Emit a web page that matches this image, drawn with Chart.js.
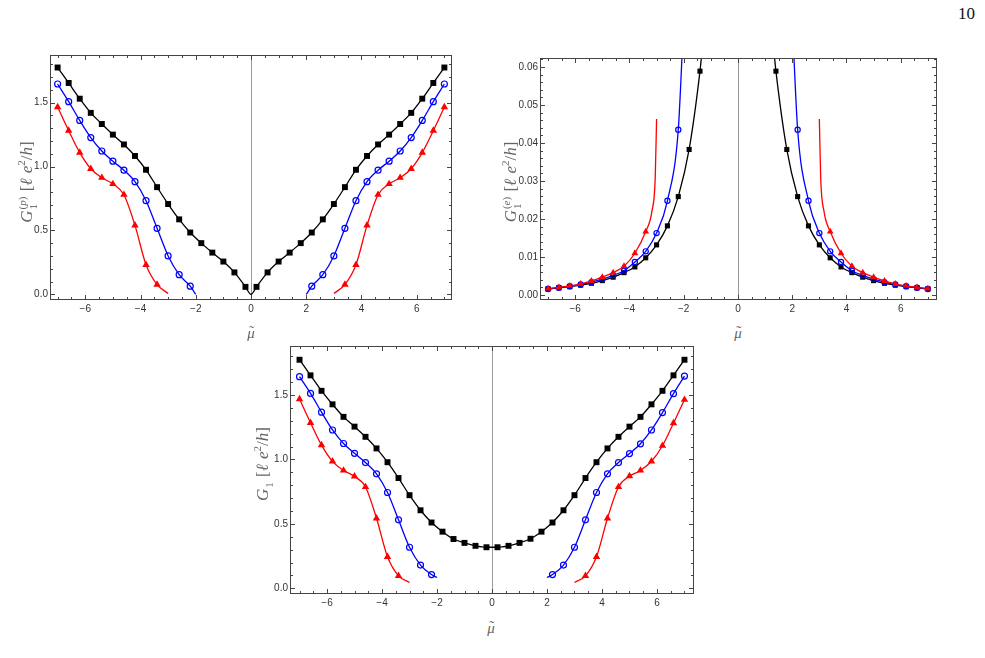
<!DOCTYPE html>
<html>
<head>
<meta charset="utf-8">
<script src="https://cdn.jsdelivr.net/npm/chart.js@4.4.1/dist/chart.umd.min.js"></script>
<style>
  body { margin: 0; width: 985px; height: 658px; background: #fff; position: relative; overflow: hidden; }
  canvas { position: absolute; }
  .lbl { position: absolute; font-family: 'Liberation Serif', 'Times New Roman', serif; color: #666; white-space: nowrap; font-size: 17px; z-index: 2; }
  .ylab { width: 160px; height: 24px; margin-left: -80px; margin-top: -12px; line-height: 24px; text-align: center; transform: rotate(-90deg); word-spacing: 1px; }
  .mu { width: 20px; height: 20px; margin-left: -10px; margin-top: -10px; line-height: 20px; text-align: center; font-style: italic; font-size: 15px; }
  .mu .w { position: relative; display: inline-block; }
  .mu .tl { position: absolute; left: 2px; top: 1px; font-style: normal; font-size: 15px; line-height: 15px; }
  .ss { display: inline-block; vertical-align: -0.5em; font-size: 11px; line-height: 1.0; text-align: left; margin-left: 1px; }
  .ss span { display: block; }
  sup { font-size: 11px; }
  .page { position: absolute; left: 958px; top: 4px; font-family: 'Liberation Serif', serif; font-size: 17px; color: #111; }
</style>
</head>
<body>
<div class="page">10</div>

<canvas id="p1" width="450" height="276" style="left:7px;top:47px"></canvas>
<canvas id="p2" width="445" height="273" style="left:497px;top:50px"></canvas>
<canvas id="p3" width="452" height="279" style="left:247px;top:338px"></canvas>

<div class="lbl ylab" style="left:21px;top:182px"><i>G</i><span class="ss"><span>(<i>p</i>)</span><span>1</span></span> [<i>ℓ</i> <i>e</i><sup>2</sup>/<i>h</i>]</div>
<div class="lbl ylab" style="left:505px;top:182px"><i>G</i><span class="ss"><span>(<i>e</i>)</span><span>1</span></span> [<i>ℓ</i> <i>e</i><sup>2</sup>/<i>h</i>]</div>
<div class="lbl ylab" style="left:257px;top:464px"><i>G</i><span class="ss"><span>&nbsp;</span><span>1</span></span> [<i>ℓ</i> <i>e</i><sup>2</sup>/<i>h</i>]</div>

<div class="lbl mu" style="left:251px;top:333px"><span class="w">μ<span class="tl">˜</span></span></div>
<div class="lbl mu" style="left:738px;top:333px"><span class="w">μ<span class="tl">˜</span></span></div>
<div class="lbl mu" style="left:491px;top:628px"><span class="w">μ<span class="tl">˜</span></span></div>

<script>
// marker positions (mu tilde)
const muBlack = [-7, -6.6, -6.2, -5.8, -5.4, -5, -4.6, -4.2, -3.8, -3.4, -3, -2.6, -2.2, -1.8, -1.4, -1, -0.6, -0.2,
                 0.2, 0.6, 1, 1.4, 1.8, 2.2, 2.6, 3, 3.4, 3.8, 4.2, 4.6, 5, 5.4, 5.8, 6.2, 6.6, 7];
const muBlackE = [-7, -6.6, -6.2, -5.8, -5.4, -5, -4.6, -4.2, -3.8, -3.4, -3, -2.6, -2.2, -1.8, -1.4,
                  1.4, 1.8, 2.2, 2.6, 3, 3.4, 3.8, 4.2, 4.6, 5, 5.4, 5.8, 6.2, 6.6, 7];
const muBlue = [-7, -6.6, -6.2, -5.8, -5.4, -5, -4.6, -4.2, -3.8, -3.4, -3, -2.6, -2.2,
                2.2, 2.6, 3, 3.4, 3.8, 4.2, 4.6, 5, 5.4, 5.8, 6.2, 6.6, 7];
const muRed = [-7, -6.6, -6.2, -5.8, -5.4, -5, -4.6, -4.2, -3.8, -3.4,
               3.4, 3.8, 4.2, 4.6, 5, 5.4, 5.8, 6.2, 6.6, 7];

// G1^(p)
const gpBlack = [1.775, 1.654, 1.531, 1.420, 1.333, 1.250, 1.173, 1.083, 0.975, 0.839, 0.707, 0.587, 0.484, 0.401, 0.327, 0.257, 0.172, 0.059,
                 0.059, 0.172, 0.257, 0.327, 0.401, 0.484, 0.587, 0.707, 0.839, 0.975, 1.083, 1.173, 1.250, 1.333, 1.420, 1.531, 1.654, 1.775];
const gpBlue = [1.646, 1.508, 1.361, 1.227, 1.122, 1.042, 0.972, 0.882, 0.733, 0.517, 0.301, 0.154, 0.064,
                0.064, 0.154, 0.301, 0.517, 0.733, 0.882, 0.972, 1.042, 1.122, 1.227, 1.361, 1.508, 1.646];
const gpRed = [1.466, 1.281, 1.109, 0.983, 0.913, 0.864, 0.780, 0.540, 0.232, 0.077,
               0.077, 0.232, 0.540, 0.780, 0.864, 0.913, 0.983, 1.109, 1.281, 1.466];
// curve ends without markers
const gpBlackEndMu = [0], gpBlackEnd = [0.0];
const gpBlueEndMu = [-2, 2], gpBlueEnd = [0.0, 0.0];
const gpRedEndMu = [-3, 3], gpRedEnd = [0.008, 0.008];

// G1^(e)
const geBlack = [0.0016, 0.0019, 0.0022, 0.0026, 0.0031, 0.0038, 0.0047, 0.0059, 0.0074, 0.0098, 0.0132, 0.0182, 0.0259, 0.0383, 0.0589,
                 0.0589, 0.0383, 0.0259, 0.0182, 0.0132, 0.0098, 0.0074, 0.0059, 0.0047, 0.0038, 0.0031, 0.0026, 0.0022, 0.0019, 0.0016];
const geBlue = [0.0016, 0.0019, 0.0023, 0.0028, 0.0034, 0.0042, 0.0052, 0.0064, 0.0087, 0.0115, 0.0163, 0.0248, 0.0435,
                0.0435, 0.0248, 0.0163, 0.0115, 0.0087, 0.0064, 0.0052, 0.0042, 0.0034, 0.0028, 0.0023, 0.0019, 0.0016];
const geRed = [0.0017, 0.0020, 0.0024, 0.0029, 0.0037, 0.0047, 0.0059, 0.0076, 0.0110, 0.0167,
               0.0167, 0.0110, 0.0076, 0.0059, 0.0047, 0.0037, 0.0029, 0.0024, 0.0020, 0.0017];
const geBlackEndMu = [-1.3, 1.3], geBlackEnd = [0.066, 0.066];
const geBlueEndMu = [-2.04, 2.04], geBlueEnd = [0.066, 0.066];
const geRedEndMu = [-3.17, -3.05, -3.0, 3.0, 3.05, 3.17], geRedEnd = [0.0221, 0.0307, 0.0463, 0.0463, 0.0307, 0.0221];

// G1 total
const g1Black = [1.774, 1.653, 1.533, 1.428, 1.331, 1.255, 1.176, 1.086, 0.979, 0.856, 0.723, 0.606, 0.511, 0.440, 0.383, 0.353, 0.330, 0.319,
                 0.319, 0.330, 0.353, 0.385, 0.440, 0.511, 0.606, 0.723, 0.856, 0.979, 1.086, 1.176, 1.255, 1.331, 1.428, 1.533, 1.653, 1.774];
const g1Blue = [1.643, 1.513, 1.367, 1.229, 1.124, 1.048, 0.976, 0.889, 0.744, 0.532, 0.319, 0.181, 0.107,
                0.107, 0.181, 0.319, 0.532, 0.744, 0.889, 0.976, 1.046, 1.122, 1.229, 1.364, 1.511, 1.647];
const g1Red = [1.469, 1.285, 1.112, 0.986, 0.915, 0.869, 0.787, 0.544, 0.245, 0.097,
               0.097, 0.245, 0.544, 0.787, 0.871, 0.915, 0.986, 1.107, 1.282, 1.464];
const g1BlueEndMu = [-2, 2], g1BlueEnd = [0.084, 0.084];
const g1RedEndMu = [-3, 3], g1RedEnd = [0.046, 0.046];

// ticks
const xTickVals = [-6, -4, -2, 0, 2, 4, 6];
const xTickLabels = ['−6', '−4', '−2', '0', '2', '4', '6'];
const yTickValsG = [0, 0.5, 1, 1.5];
const yTickLabelsG = ['0.0', '0.5', '1.0', '1.5'];
const yTickValsE = [0, 0.01, 0.02, 0.03, 0.04, 0.05, 0.06];
const yTickLabelsE = ['0.00', '0.01', '0.02', '0.03', '0.04', '0.05', '0.06'];

Chart.defaults.font.family = "'Liberation Sans', Arial, sans-serif";
Chart.defaults.font.size = 10;
Chart.defaults.color = '#333';

function series(mu, vals, endMu, endVals, split) {
  const pts = mu.map((m, i) => ({ x: m, y: vals[i], mark: true }));
  endMu.forEach((m, i) => pts.push({ x: m, y: endVals[i], mark: false }));
  pts.sort((a, b) => a.x - b.x);
  if (split) {
    const k = pts.findIndex(p => p.x > 0);
    pts.splice(k, 0, { x: 0, y: null, mark: false });
  }
  return pts;
}

function ds(points, color, style, r) {
  const open = style === 'circle';
  return {
    data: points,
    borderColor: color,
    borderWidth: 1.3,
    cubicInterpolationMode: 'monotone',
    spanGaps: false,
    pointStyle: style,
    pointRadius: c => (c.raw && c.raw.mark ? r : 0),
    pointHoverRadius: 0,
    pointBackgroundColor: open ? 'rgba(0,0,0,0)' : color,
    pointBorderColor: color,
    pointBorderWidth: open ? 1.2 : 0
  };
}

const framePlugin = {
  id: 'frame',
  beforeDatasetsDraw(chart) {
    const a = chart.chartArea, x0 = Math.round(chart.scales.x.getPixelForValue(0)) + 0.5;
    const ctx = chart.ctx;
    ctx.save();
    ctx.strokeStyle = '#999';
    ctx.lineWidth = 1;
    ctx.beginPath();
    ctx.moveTo(x0, a.top);
    ctx.lineTo(x0, a.bottom);
    ctx.stroke();
    ctx.restore();
  },
  afterDatasetsDraw(chart, args, opts) {
    const a = chart.chartArea, ctx = chart.ctx;
    const xs = chart.scales.x, ys = chart.scales.y;
    const L = Math.round(a.left) - 0.5, R = Math.round(a.right) + 0.5;
    const T = Math.round(a.top) - 0.5, B = Math.round(a.bottom) + 0.5;
    ctx.save();
    ctx.strokeStyle = '#444';
    ctx.lineWidth = 1;
    ctx.strokeRect(L, T, R - L, B - T);
    ctx.beginPath();
    const xt = (v, len) => {
      const p = Math.round(xs.getPixelForValue(v)) + 0.5;
      ctx.moveTo(p, B); ctx.lineTo(p, B - len);
      ctx.moveTo(p, T); ctx.lineTo(p, T + len);
    };
    const yt = (v, len) => {
      const p = Math.round(ys.getPixelForValue(v)) + 0.5;
      ctx.moveTo(L, p); ctx.lineTo(L + len, p);
      ctx.moveTo(R, p); ctx.lineTo(R - len, p);
    };
    for (let v = Math.ceil(xs.min / opts.xMinor) * opts.xMinor; v <= xs.max; v += opts.xMinor) xt(v, 2.5);
    for (let v = Math.ceil(ys.min / opts.yMinor) * opts.yMinor; v <= ys.max; v += opts.yMinor) yt(v, 2.5);
    opts.xMajor.forEach(v => xt(v, 4.5));
    opts.yMajor.forEach(v => yt(v, 4.5));
    ctx.stroke();
    ctx.restore();
  }
};

function makeChart(id, xr, yr, yVals, yLabels, yMinor, datasets) {
  new Chart(document.getElementById(id), {
    type: 'line',
    data: { datasets: datasets },
    plugins: [framePlugin],
    options: {
      responsive: false,
      animation: false,
      devicePixelRatio: 1,
      layout: { padding: { top: 6, right: 6, left: 0, bottom: 0 } },
      plugins: {
        legend: { display: false },
        tooltip: { enabled: false },
        frame: { xMinor: 0.5, yMinor: yMinor, xMajor: xTickVals, yMajor: yVals }
      },
      scales: {
        x: {
          type: 'linear', min: xr[0], max: xr[1],
          grid: { display: false, drawTicks: false },
          border: { display: false },
          afterFit: s => { s.height = 24; },
          afterBuildTicks: s => { s.ticks = xTickVals.map(v => ({ value: v })); },
          ticks: { padding: 4, autoSkip: false, maxRotation: 0, callback: (v, i) => xTickLabels[i] }
        },
        y: {
          type: 'linear', min: yr[0], max: yr[1],
          grid: { display: false, drawTicks: false },
          border: { display: false },
          afterFit: s => { s.width = 44; },
          afterBuildTicks: s => { s.ticks = yVals.map(v => ({ value: v })); },
          ticks: { padding: 3, autoSkip: false, callback: (v, i) => yLabels[i] }
        }
      }
    }
  });
}

makeChart('p1', [-7.24, 7.24], [-0.036, 1.865], yTickValsG, yTickLabelsG, 0.1, [
  ds(series(muRed, gpRed, gpRedEndMu, gpRedEnd, true), '#ff0000', 'triangle', 4.3),
  ds(series(muBlue, gpBlue, gpBlueEndMu, gpBlueEnd, true), '#0000ff', 'circle', 3),
  ds(series(muBlack, gpBlack, gpBlackEndMu, gpBlackEnd, false), '#000000', 'rect', 4.2)
]);

makeChart('p2', [-7.26, 7.3], [-0.00104, 0.0621], yTickValsE, yTickLabelsE, 0.002, [
  ds(series(muRed, geRed, geRedEndMu, geRedEnd, true), '#ff0000', 'triangle', 3.9),
  ds(series(muBlue, geBlue, geBlueEndMu, geBlueEnd, true), '#0000ff', 'circle', 2.6),
  ds(series(muBlackE, geBlack, geBlackEndMu, geBlackEnd, true), '#000000', 'rect', 3.6)
]);

makeChart('p3', [-7.31, 7.31], [-0.036, 1.873], yTickValsG, yTickLabelsG, 0.1, [
  ds(series(muRed, g1Red, g1RedEndMu, g1RedEnd, true), '#ff0000', 'triangle', 4.3),
  ds(series(muBlue, g1Blue, g1BlueEndMu, g1BlueEnd, true), '#0000ff', 'circle', 3),
  ds(series(muBlack, g1Black, [], [], false), '#000000', 'rect', 4.2)
]);
</script>
</body>
</html>
